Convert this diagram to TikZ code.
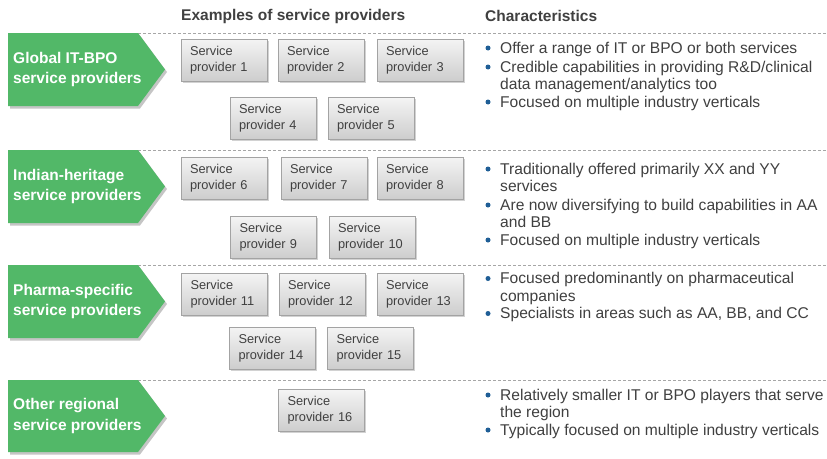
\documentclass[tikz,border=0pt]{standalone}
\usepackage{fontspec}
\setmainfont{Liberation Sans}
\usetikzlibrary{shadows}
\definecolor{grpgreen}{HTML}{52B868}
\definecolor{txt}{HTML}{404040}
\definecolor{rule}{HTML}{A6A6A6}
\definecolor{bulletblue}{HTML}{1F5E96}
\definecolor{boxtop}{HTML}{F4F4F4}
\definecolor{boxbot}{HTML}{CDCDCD}
\definecolor{boxline}{HTML}{A3A3A3}
\tikzset{
  grp/.style={fill=grpgreen, drop shadow={shadow xshift=2pt, shadow yshift=-2.5pt, opacity=0.45}},
  grplbl/.style={anchor=west, align=left, inner sep=0pt, text=white, font=\fontsize{15.5}{20.5}\selectfont\bfseries},
  head/.style={anchor=base west, inner sep=0pt, text=txt, font=\fontsize{15.5}{18}\selectfont\bfseries},
  sep/.style={draw=rule, line width=0.8pt, dash pattern=on 3pt off 2pt},
  spbox/.style={draw=boxline, line width=0.6pt, top color=boxtop, bottom color=boxbot,
    minimum width=86pt, minimum height=42pt, text width=68pt, align=left, text=txt,
    font=\fontsize{12.8}{16}\selectfont,
    drop shadow={shadow xshift=1.5pt, shadow yshift=-1.5pt, opacity=0.35}},
  % base west of a two-line text is its last line
  chartxt/.style={anchor=base west, align=left, inner sep=0pt, text=txt, font=\fontsize{15.6}{17.5}\selectfont},
  bdot/.style={circle, fill=bulletblue, inner sep=0pt, minimum size=5pt}
}

\begin{document}
\begin{tikzpicture}[x=1pt, y=-1pt]
  \fill[white] (0,0) rectangle (827,458);
  \useasboundingbox (0,0) rectangle (827,458);

  % column headers
  \node[head] (hex) at (181,20) {Examples of service providers};
  \node[head] (hch) at (485,21) {Characteristics};

  % row separators
  \draw[sep] (138,33) -- (827,33);
  \draw[sep] (138,150.5) -- (827,150.5);
  \draw[sep] (138,265) -- (827,265);
  \draw[sep] (138,380.5) -- (827,380.5);

  % green group arrows
  \fill[grp] (8,33) -- (138,33) -- (165,69.5) -- (138,106) -- (8,106) -- cycle;
  \fill[grp] (8,150) -- (138,150) -- (165,186.5) -- (138,223) -- (8,223) -- cycle;
  \fill[grp] (8,265) -- (138,265) -- (165,301.5) -- (138,338) -- (8,338) -- cycle;
  \fill[grp] (8,380) -- (138,380) -- (165,416) -- (138,452) -- (8,452) -- cycle;

  \node[grplbl] (g1) at (13,69.5) {Global IT-BPO\\service providers};
  \node[grplbl] (g2) at (13,186.5) {Indian-heritage\\service providers};
  \node[grplbl] (g3) at (13,301.5) {Pharma-specific\\service providers};
  \node[grplbl] (g4) at (13,416) {Other regional\\service providers};

  % service provider boxes
  \node[spbox] (sp1) at (224,60) {Service\\provider 1};
  \node[spbox] (sp2) at (321,60) {Service\\provider 2};
  \node[spbox] (sp3) at (420,60) {Service\\provider 3};
  \node[spbox] (sp4) at (273,118.5) {Service\\provider 4};
  \node[spbox] (sp5) at (371,118.5) {Service\\provider 5};

  \node[spbox] (sp6) at (224,178) {Service\\provider 6};
  \node[spbox] (sp7) at (324,178) {Service\\provider 7};
  \node[spbox] (sp8) at (420,178) {Service\\provider 8};
  \node[spbox] (sp9) at (273.5,237.5) {Service\\provider 9};
  \node[spbox] (sp10) at (372,237.5) {Service\\provider 10};

  \node[spbox] (sp11) at (224.5,294) {Service\\provider 11};
  \node[spbox] (sp12) at (322,294) {Service\\provider 12};
  \node[spbox] (sp13) at (420,294) {Service\\provider 13};
  \node[spbox] (sp14) at (272.5,348) {Service\\provider 14};
  \node[spbox] (sp15) at (370.5,348) {Service\\provider 15};

  \node[spbox] (sp16) at (321.5,410.5) {Service\\provider 16};

  % characteristics
  \node[bdot] (b1a) at (488,48) {};
  \node[chartxt] (c1a) at (500,53) {Offer a range of IT or BPO or both services};
  \node[bdot] (b1b) at (488,67) {};
  \node[chartxt] (c1b) at (500,89.5) {Credible capabilities in providing R\&D/clinical\\data management/analytics too};
  \node[bdot] (b1c) at (488,102) {};
  \node[chartxt] (c1c) at (500,107) {Focused on multiple industry verticals};

  \node[bdot] (b2a) at (488,169) {};
  \node[chartxt] (c2a) at (500,191.5) {Traditionally offered primarily XX and YY\\services};
  \node[bdot] (b2b) at (488,205) {};
  \node[chartxt] (c2b) at (500,227.5) {Are now diversifying to build capabilities in AA\\and BB};
  \node[bdot] (b2c) at (488,240) {};
  \node[chartxt] (c2c) at (500,245) {Focused on multiple industry verticals};

  \node[bdot] (b3a) at (488,278.5) {};
  \node[chartxt] (c3a) at (500,301) {Focused predominantly on pharmaceutical\\companies};
  \node[bdot] (b3b) at (488,313.5) {};
  \node[chartxt] (c3b) at (500,318.5) {Specialists in areas such as AA, BB, and CC};

  \node[bdot] (b4a) at (488,395) {};
  \node[chartxt] (c4a) at (500,417.5) {Relatively smaller IT or BPO players that serve\\the region};
  \node[bdot] (b4b) at (488,430) {};
  \node[chartxt] (c4b) at (500,435) {Typically focused on multiple industry verticals};
\end{tikzpicture}
\end{document}
